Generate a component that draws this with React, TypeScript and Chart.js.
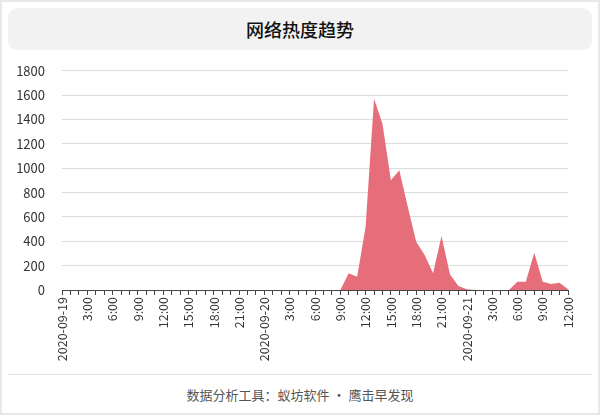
import { useEffect, useRef } from "react";
import { Chart, registerables } from "chart.js";

Chart.register(...registerables);

const FONT = '"Noto Sans CJK SC", "Noto Sans", sans-serif';

// hourly categories, 2020-09-19 00:00 .. 2020-09-21 12:00
const hourLabels = [
  "2020-09-19", "1:00", "2:00", "3:00", "4:00", "5:00", "6:00", "7:00", "8:00", "9:00", "10:00", "11:00",
  "12:00", "13:00", "14:00", "15:00", "16:00", "17:00", "18:00", "19:00", "20:00", "21:00", "22:00", "23:00",
  "2020-09-20", "1:00", "2:00", "3:00", "4:00", "5:00", "6:00", "7:00", "8:00", "9:00", "10:00", "11:00",
  "12:00", "13:00", "14:00", "15:00", "16:00", "17:00", "18:00", "19:00", "20:00", "21:00", "22:00", "23:00",
  "2020-09-21", "1:00", "2:00", "3:00", "4:00", "5:00", "6:00", "7:00", "8:00", "9:00", "10:00", "11:00",
  "12:00",
];

const heatValues = [
  0, 0, 0, 0, 0, 0, 0, 0, 0, 0, 0, 0,
  0, 0, 0, 0, 0, 0, 0, 0, 0, 0, 0, 0,
  0, 0, 0, 0, 0, 0, 0, 0, 0, 0, 137, 109,
  519, 1571, 1366, 902, 984, 683, 396, 287, 137, 443, 130, 33,
  6, 0, 0, 0, 0, 0, 68, 68, 306, 68, 49, 60,
  6,
];

const yTicks = [0, 200, 400, 600, 800, 1000, 1200, 1400, 1600, 1800];

function HeatChart() {
  const canvasRef = useRef<HTMLCanvasElement>(null);
  const chartRef = useRef<any>(null);

  useEffect(() => {
    if (!canvasRef.current) return;
    chartRef.current?.destroy();
    chartRef.current = new Chart(canvasRef.current, {
      type: "line",
      data: {
        labels: hourLabels,
        datasets: [{
          data: heatValues,
          fill: "origin",
          backgroundColor: "rgb(229,110,122)",
          borderWidth: 0,
          pointRadius: 0,
          tension: 0,
        }],
      },
      options: {
        responsive: true,
        maintainAspectRatio: false,
        animation: false,
        layout: { padding: { top: 10, right: 32, left: 0, bottom: 0 } },
        plugins: { legend: { display: false }, tooltip: { enabled: false } },
        scales: {
          x: {
            afterFit: (s: any) => { s.height = 83; },
            grid: { drawOnChartArea: false, color: "#444", tickLength: 5, offset: false },
            border: { display: true, color: "#444", width: 1 },
            ticks: {
              autoSkip: false,
              maxRotation: 90,
              minRotation: 90,
              color: "#333",
              padding: 2,
              font: { size: 12.5, family: FONT },
              callback: (_v: any, i: number) => (i % 3 === 0 ? hourLabels[i] : ""),
            },
          },
          y: {
            min: 0,
            max: 1800,
            afterFit: (s: any) => { s.width = 62; },
            afterBuildTicks: (s: any) => { s.ticks = yTicks.map((v) => ({ value: v })); },
            grid: { color: "#dcdcdc", drawTicks: false },
            border: { display: false },
            ticks: {
              color: "#333",
              padding: 17,
              font: { size: 13, family: FONT },
              callback: (v: any) => String(v),
            },
          },
        },
      },
    });
    return () => { chartRef.current?.destroy(); chartRef.current = null; };
  }, []);

  return <canvas ref={canvasRef} />;
}

export default function App() {
  useEffect(() => { document.body.style.margin = "0"; }, []);
  return (
    <div style={{
      position: "relative", width: 600, height: 415, boxSizing: "border-box",
      border: "2px solid #e8e8e8", background: "#fff", fontFamily: FONT,
    }}>
      <div style={{
        position: "absolute", left: 6, top: 6, width: 584, height: 42, background: "#f2f2f2",
        borderRadius: 9, display: "flex", alignItems: "center", justifyContent: "center",
        fontSize: 18, fontWeight: 500, color: "#111",
      }}>
        网络热度趋势
      </div>
      <div style={{ position: "absolute", left: -2, top: 44, width: 600, height: 327 }}>
        <HeatChart />
      </div>
      <div style={{ position: "absolute", left: 6, top: 372, width: 584, borderTop: "1px solid #e0e0e0" }} />
      <div style={{
        position: "absolute", left: 0, top: 383, width: 596, textAlign: "center",
        fontSize: 13, color: "#555",
      }}>
        数据分析工具：蚁坊软件 • 鹰击早发现
      </div>
    </div>
  );
}
